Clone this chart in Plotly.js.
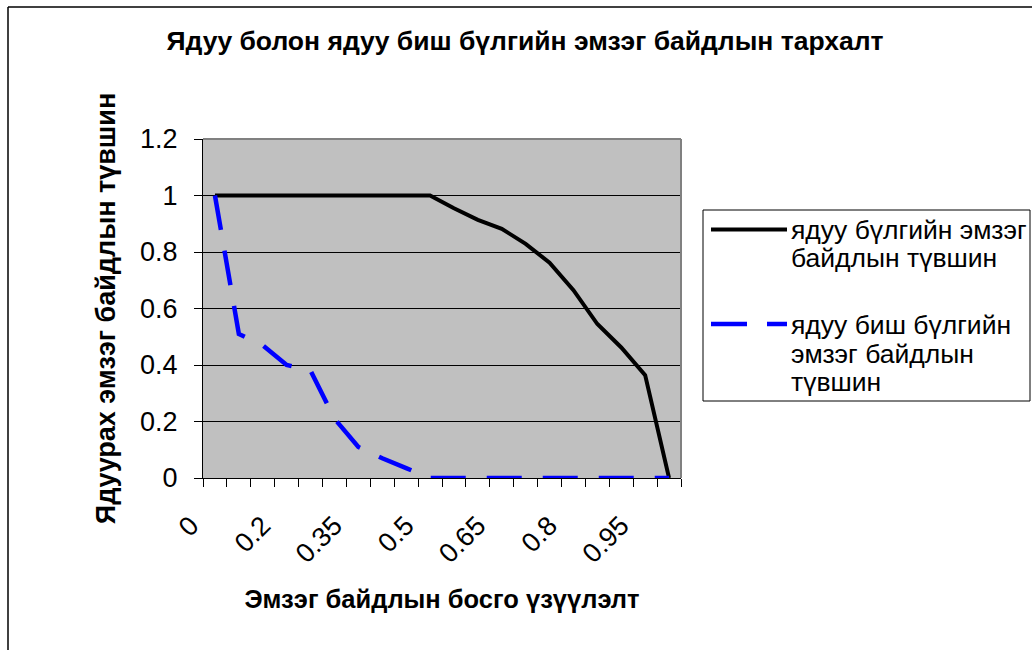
<!DOCTYPE html>
<html>
<head>
<meta charset="utf-8">
<script src="https://cdn.plot.ly/plotly-3.0.1.min.js"></script>
<style>
  html, body { margin: 0; padding: 0; background: #ffffff; }
  #chart { width: 1032px; height: 650px; }
</style>
</head>
<body>
<div id="chart"></div>
<script>
// ---- Data ----
const categories = ["0", "0.1", "0.15", "0.2", "0.25", "0.3", "0.35", "0.4", "0.45", "0.5",
                    "0.55", "0.6", "0.65", "0.7", "0.75", "0.8", "0.85", "0.9", "0.95", "1"];
const poorValues = [1, 1, 1, 1, 1, 1, 1, 1, 1, 1,
                    0.955, 0.914, 0.882, 0.829, 0.762, 0.665, 0.545, 0.462, 0.364, 0];
const nonPoorValues = [1, 0.51, 0.47, 0.40, 0.38, 0.21, 0.11, 0.07, 0.035, 0,
                       0, 0, 0, 0, 0, 0, 0, 0, 0, 0];
const tickLabels = ["0", "0.2", "0.35", "0.5", "0.65", "0.8", "0.95"];
const seriesNames = ["ядуу бүлгийн эмзэг байдлын түвшин", "ядуу биш бүлгийн эмзэг байдлын түвшин"];
const legendLines = [["ядуу бүлгийн эмзэг", "байдлын түвшин"],
                     ["ядуу биш бүлгийн", "эмзэг байдлын", "түвшин"]];
const chartTitle = "Ядуу болон ядуу биш бүлгийн эмзэг байдлын тархалт";
const xTitle = "Эмзэг байдлын босго үзүүлэлт";
const yTitle = "Ядуурах эмзэг байдлын түвшин";

// ---- Layout geometry ----
const FONT = "Liberation Sans, Arial, sans-serif";
const W = 1032, H = 650;
const L = 203, R = 681, T = 139, B = 478;
const px = x => (x - L) / (R - L);
const py = y => (B - y) / (B - T);
const nCat = categories.length;

const traces = [
  {
    x: categories, y: poorValues, type: "scatter", mode: "lines",
    name: seriesNames[0], showlegend: false,
    line: { color: "#000000", width: 4 }
  },
  {
    x: categories, y: nonPoorValues, type: "scatter", mode: "lines",
    name: seriesNames[1], showlegend: false,
    line: { color: "#0000ff", width: 4.5, dash: "35px,21px" }
  },
  // invisible trace on the overlay axis that carries category boundary tick marks
  {
    x: [-0.5, nCat - 0.5], y: [0, 0], xaxis: "x2", type: "scatter", mode: "lines",
    line: { width: 0 }, hoverinfo: "skip", showlegend: false
  }
];

const shapes = [
  // outer chart border (top + left)
  { type: "line", xref: "paper", yref: "paper", x0: px(8), x1: px(W + 5), y0: py(7), y1: py(7),
    line: { color: "#000000", width: 1.5 } },
  { type: "line", xref: "paper", yref: "paper", x0: px(8), x1: px(8), y0: py(7), y1: py(H + 5),
    line: { color: "#000000", width: 1.5 } },
  // plot area gray top/right border
  { type: "line", xref: "paper", yref: "paper", x0: 0, x1: 1, y0: 1, y1: 1,
    line: { color: "#808080", width: 2 } },
  { type: "line", xref: "paper", yref: "paper", x0: 1, x1: 1, y0: 0, y1: 1,
    line: { color: "#808080", width: 2 } },
  // legend box
  { type: "rect", xref: "paper", yref: "paper", x0: px(703), x1: px(1030), y0: py(210), y1: py(401),
    line: { color: "#000000", width: 1 }, fillcolor: "rgba(0,0,0,0)" },
  // legend samples
  { type: "line", xref: "paper", yref: "paper", x0: px(711), x1: px(787), y0: py(229.5), y1: py(229.5),
    line: { color: "#000000", width: 4 } },
  { type: "line", xref: "paper", yref: "paper", x0: px(711), x1: px(787), y0: py(324), y1: py(324),
    line: { color: "#0000ff", width: 4.5, dash: "36px,20px" } }
];

const legendY = [[230, 258], [325, 354, 382]];
const annotations = [];
legendLines.forEach((lines, i) => {
  lines.forEach((t, j) => {
    annotations.push({
      text: t, xref: "paper", yref: "paper", x: px(789), y: py(legendY[i][j]),
      xanchor: "left", yanchor: "middle", showarrow: false,
      font: { family: FONT, size: 26.5, color: "#000000" }
    });
  });
});

const layout = {
  width: W, height: H,
  margin: { l: L, r: W - R, t: T, b: H - B, pad: 0 },
  paper_bgcolor: "#ffffff",
  plot_bgcolor: "#c0c0c0",
  showlegend: false,
  font: { family: FONT, color: "#000000" },
  title: {
    text: "<b>" + chartTitle + "</b>",
    font: { family: FONT, size: 26.5, color: "#000000" },
    x: 525 / W, xref: "container", xanchor: "center",
    y: 1 - 41 / H, yref: "container", yanchor: "middle"
  },
  xaxis: {
    type: "category", range: [-0.5, nCat - 0.5],
    tickmode: "array", tickvals: tickLabels, ticktext: tickLabels,
    ticks: "", tickangle: -45, ticklabelshift: -24, ticklabelstandoff: 20,
    tickfont: { family: FONT, size: 27, color: "#000000" },
    showline: true, linecolor: "#000000", linewidth: 1,
    showgrid: false, zeroline: false, fixedrange: true,
    title: { text: "<b>" + xTitle + "</b>", font: { family: FONT, size: 25.5, color: "#000000" }, standoff: 22 }
  },
  xaxis2: {
    overlaying: "x", anchor: "y", side: "bottom", range: [-0.5, nCat - 0.5],
    tickmode: "linear", tick0: -0.5, dtick: 1,
    ticks: "outside", ticklen: 8, tickwidth: 1, tickcolor: "#000000",
    showticklabels: false, showgrid: false, zeroline: false, showline: false
  },
  yaxis: {
    range: [0, 1.2], dtick: 0.2, tick0: 0,
    ticks: "outside", ticklen: 8, tickwidth: 1, tickcolor: "#000000",
    ticklabelstandoff: 11,
    tickfont: { family: FONT, size: 27, color: "#000000" },
    showline: true, linecolor: "#000000", linewidth: 1,
    showgrid: true, gridcolor: "#000000", gridwidth: 1, zeroline: false,
    title: { text: "<b>" + yTitle + "</b>", font: { family: FONT, size: 27, color: "#000000" }, standoff: 16 }
  },
  shapes: shapes,
  annotations: annotations
};

Plotly.newPlot("chart", traces, layout, { displayModeBar: false, staticPlot: true });
</script>
</body>
</html>
